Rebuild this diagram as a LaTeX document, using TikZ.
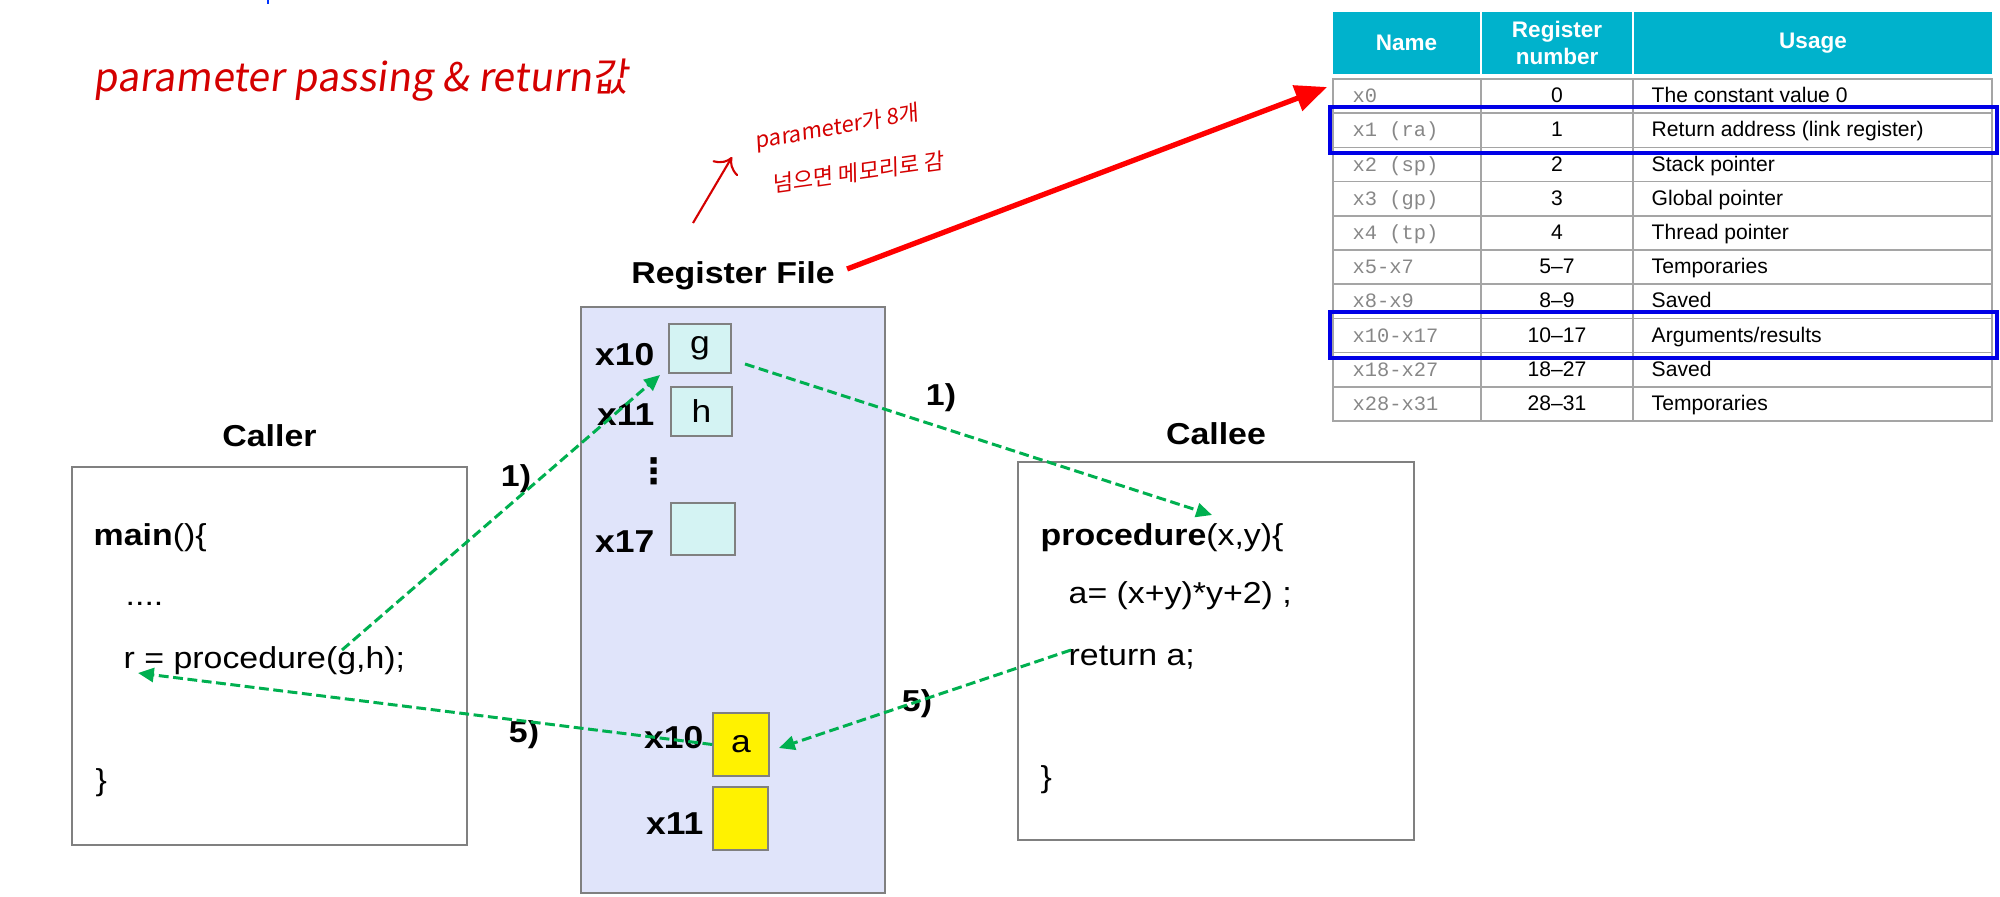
\documentclass[tikz,border=0pt]{standalone}
\usepackage{fontspec}
\setmainfont{Liberation Sans}[FakeStretch=1.12]
\newfontfamily\tabfont{Liberation Sans}
\newfontfamily\tabmono{Liberation Mono}
\newfontfamily\symfont{DejaVu Sans}
\newfontfamily\handfont{Noto Sans CJK KR}[FakeSlant=0.12]
\usepackage{tikz}
\usetikzlibrary{arrows.meta, positioning}

\definecolor{regbg}{RGB}{224,228,250}
\definecolor{argcyan}{RGB}{212,243,243}
\definecolor{flowgreen}{RGB}{0,176,80}
\definecolor{headteal}{RGB}{0,178,204}
\definecolor{namegray}{RGB}{135,135,135}
\definecolor{gridgray}{RGB}{165,165,165}
\definecolor{penred}{RGB}{212,0,0}
\definecolor{markblue}{RGB}{0,0,230}

\tikzstyle{codebox} = [rectangle, draw=gray, line width=0.4pt, fill=white, inner sep=0pt]
\tikzstyle{cell} = [rectangle, draw=gray, line width=0.4pt, fill=argcyan, inner sep=0pt, font=\fontsize{9}{10}\selectfont]
\tikzstyle{retcell} = [cell, fill=yellow]
\tikzstyle{boxtitle} = [font=\fontsize{8.6}{10}\selectfont\bfseries]
\tikzstyle{reglbl} = [anchor=east, inner sep=0pt, font=\fontsize{9}{10}\selectfont\bfseries]
\tikzstyle{code} = [anchor=base west, inner sep=0pt, font=\fontsize{8.6}{10}\selectfont]
\tikzstyle{stepnum} = [font=\fontsize{8.6}{10}\selectfont\bfseries]
\tikzstyle{memo} = [penred, inner sep=0pt, font=\handfont\fontsize{6.3}{7}\selectfont]
\tikzstyle{flow} = [flowgreen, line width=0.85pt, dash pattern=on 2.8pt off 1.3pt, -{Triangle[length=4.5pt,width=4pt]}]
\tikzstyle{bigarrow} = [red, line width=1.5pt, -{Triangle[length=9pt,width=7.5pt]}]
\tikzstyle{headcell} = [rectangle, fill=headteal, text=white, inner sep=0pt, align=center, minimum height=0.62cm, font=\tabfont\fontsize{6.4}{7.8}\selectfont\bfseries]
\tikzstyle{tabgrid} = [gridgray, line width=0.5pt]
\tikzstyle{rowname} = [anchor=base west, inner sep=0pt, text=namegray, font=\tabmono\fontsize{5.8}{7}\selectfont]
\tikzstyle{rownum} = [anchor=base, inner sep=0pt, font=\tabfont\fontsize{6}{7}\selectfont]
\tikzstyle{rowuse} = [anchor=base west, inner sep=0pt, font=\tabfont\fontsize{6}{7}\selectfont]
\tikzstyle{hilite} = [markblue, line width=1.4pt]

\begin{document}
\begin{tikzpicture}[x=0.01cm, y=-0.01cm]
  \useasboundingbox (0,0) rectangle (2000,897);

  % handwritten notes
  \node[penred, font=\handfont\fontsize{11.2}{13}\selectfont] (hdr) at (361,80) {parameter passing \& return값};
  \node[memo, rotate=10] (memo1) at (837,128) {parameter가 8개};
  \node[memo, rotate=8] (memo2) at (858,172) {넘으면 메모리로 감};
  \coordinate (memotail) at (693,223);
  \coordinate (memohead) at (732,157);
  \draw[penred, line width=0.6pt, -{To[length=4pt]}] (memotail) -- (memohead);
  \draw[blue!80!cyan, line width=0.5pt] (268,0) -- (268,4);

  % register file
  \node[codebox, fill=regbg, minimum width=3.04cm, minimum height=5.86cm] (regfile) at (733,600) {};
  \node[boxtitle, above=1pt of regfile] (regtitle) {Register File};
  \node[cell, minimum width=0.62cm, minimum height=0.49cm] (gcell) at (700,348.5) {g};
  \node[cell, minimum width=0.61cm, minimum height=0.49cm] (hcell) at (701.5,411.5) {h};
  \node[cell, minimum width=0.64cm, minimum height=0.52cm] (lastcell) at (703,529) {};
  \node[retcell, minimum width=0.56cm, minimum height=0.63cm] (acell) at (741,744.5) {a};
  \node[retcell, minimum width=0.55cm, minimum height=0.63cm] (bcell) at (740.5,818.5) {};
  \node[reglbl] (lx10) at (655,355) {x10};
  \node[reglbl] (lx11) at (655,415) {x11};
  \node[reglbl] (lx17) at (655,542) {x17};
  \node[reglbl] (rx10) at (704,738) {x10};
  \node[reglbl] (rx11) at (704,824) {x11};
  \node[inner sep=0pt, font=\symfont\bfseries\fontsize{10}{10}\selectfont] (vdots) at (654,471) {⋮};

  % caller
  \node[codebox, minimum width=3.95cm, minimum height=3.78cm] (caller) at (269.5,656) {};
  \node[boxtitle, above=2pt of caller] (callerlbl) {Caller};
  \node[code] (mainln) at (93,545) {\textbf{main}()\{};
  \node[code] (dotsln) at (125,605) {....};
  \node[code] (callln) at (123,668) {r = procedure(g,h);};
  \node[code] (closeln) at (95,790) {\}};

  % callee
  \node[codebox, minimum width=3.96cm, minimum height=3.78cm] (callee) at (1216,651) {};
  \node[boxtitle, above=1pt of callee] (calleelbl) {Callee};
  \node[code] (procln) at (1040,545) {\textbf{procedure}(x,y)\{};
  \node[code] (exprln) at (1068,603) {a= (x+y)*y+2) ;};
  \node[code] (retln) at (1068,665) {return a;};
  \node[code] (endln) at (1040,787) {\}};

  % step labels
  \node[stepnum] (s1a) at (516,479) {1)};
  \node[stepnum] (s1b) at (941,398) {1)};
  \node[stepnum] (s5a) at (524,735) {5)};
  \node[stepnum] (s5b) at (917,704) {5)};

  % register usage table
  \node[headcell, minimum width=1.47cm] (hname) at (1406.5,43) {Name};
  \node[headcell, minimum width=1.50cm] (hnum) at (1557,43) {Register\\number};
  \node[headcell, minimum width=3.58cm] (husage) at (1813,43) {Usage};
  \draw[tabgrid] (1333,79) rectangle (1992,421);
  \draw[tabgrid] (1481,79) -- (1481,421) (1633,79) -- (1633,421);
  \foreach \k in {1,...,9}
    \draw[tabgrid] (1333,79+34.2*\k) -- (1992,79+34.2*\k);
  \foreach \nm/\nb/\us [count=\i from 0] in {x0/0/The constant value 0, x1 (ra)/1/Return address (link register), x2 (sp)/2/Stack pointer, x3 (gp)/3/Global pointer, x4 (tp)/4/Thread pointer, x5-x7/5–7/Temporaries, x8-x9/8–9/Saved, x10-x17/10–17/{Arguments/results}, x18-x27/18–27/Saved, x28-x31/28–31/Temporaries} {
    \node[rowname] (nm\i) at (1352,102.7+34.2*\i) {\nm};
    \node[rownum] (nb\i) at (1557,102.7+34.2*\i) {\nb};
    \node[rowuse] (us\i) at (1651,102.7+34.2*\i) {\us};
  }
  \draw[hilite] (1330,107) rectangle (1997,153);
  \draw[hilite] (1330,312) rectangle (1997,358);

  % arrows
  \coordinate (tabin) at (1327,87);
  \coordinate (gArg) at (342,650);
  \coordinate (gTip) at (660,375);
  \coordinate (gOut) at (745,364);
  \coordinate (xParam) at (1212,515);
  \coordinate (retA) at (1071,650);
  \coordinate (aTip) at (779,748);
  \coordinate (rDest) at (138,673);
  \draw[bigarrow] ([yshift=2pt]regtitle.east) -- (tabin);
  \draw[flow] (gArg) -- (gTip);
  \draw[flow] (gOut) -- (xParam);
  \draw[flow] (retA) -- (aTip);
  \draw[flow] (acell.west) -- (rDest);
\end{tikzpicture}
\end{document}
